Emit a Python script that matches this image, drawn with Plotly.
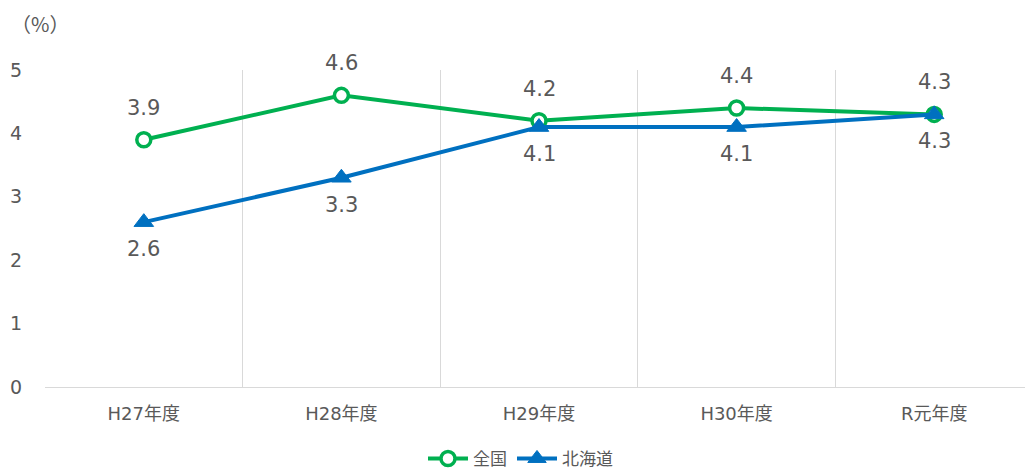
import plotly.graph_objects as go

categories = ["H27年度", "H28年度", "H29年度", "H30年度", "R元年度"]
national = [3.9, 4.6, 4.2, 4.4, 4.3]
hokkaido = [2.6, 3.3, 4.1, 4.1, 4.3]
yticks = [0, 1, 2, 3, 4, 5]

FONT = "DejaVu Sans, Noto Sans CJK JP"
GRAY = "#595959"
GREEN = "#00B050"
BLUE = "#0070C0"

fig = go.Figure()
fig.add_trace(go.Scatter(
    x=categories, y=national, name="全国", mode="lines+markers",
    line=dict(color=GREEN, width=4),
    marker=dict(symbol="circle", size=14, color="white", line=dict(color=GREEN, width=3.5)),
))
fig.add_trace(go.Scatter(
    x=categories, y=hokkaido, name="北海道", mode="lines+markers",
    line=dict(color=BLUE, width=4),
    marker=dict(symbol="triangle-up", size=17, color=BLUE, line=dict(color=BLUE, width=1)),
))

annotations = []
for c, v in zip(categories, national):
    annotations.append(dict(x=c, y=v, text=f"{v:.1f}", showarrow=False, yshift=32,
                            font=dict(family=FONT, size=21, color=GRAY)))
for c, v in zip(categories, hokkaido):
    annotations.append(dict(x=c, y=v, text=f"{v:.1f}", showarrow=False, yshift=-27,
                            font=dict(family=FONT, size=21, color=GRAY)))
annotations.append(dict(x=0.0, y=1.0, xref="paper", yref="paper", xanchor="left", yanchor="bottom",
                        xshift=-36, yshift=30, text="（%）", showarrow=False,
                        font=dict(family="Noto Sans CJK JP", size=20, color=GRAY)))

fig.update_layout(
    width=1025, height=464,
    margin=dict(l=37, r=0, t=62, b=85, autoexpand=False),
    paper_bgcolor="white", plot_bgcolor="white",
    font=dict(family=FONT, color=GRAY),
    showlegend=True,
    legend=dict(orientation="h", xref="container", x=0.5, xanchor="center", y=-0.17, yanchor="top",
                font=dict(family=FONT, size=17, color=GRAY), itemwidth=40),
    annotations=annotations,
)
fig.update_xaxes(
    type="category", range=[-0.5, 4.5], tickson="boundaries", automargin=False,
    showgrid=True, gridcolor="#D9D9D9", gridwidth=1,
    showline=True, linecolor="#D9D9D9", linewidth=1,
    ticks="", tickfont=dict(family=FONT, size=18, color=GRAY), ticklabelstandoff=10,
)
fig.update_yaxes(
    range=[0, 5], tickvals=yticks, showgrid=False, zeroline=False, automargin=False,
    showline=False, ticks="", tickfont=dict(family=FONT, size=19, color=GRAY),
    ticklabelstandoff=22,
)

fig.write_html("out.html")
